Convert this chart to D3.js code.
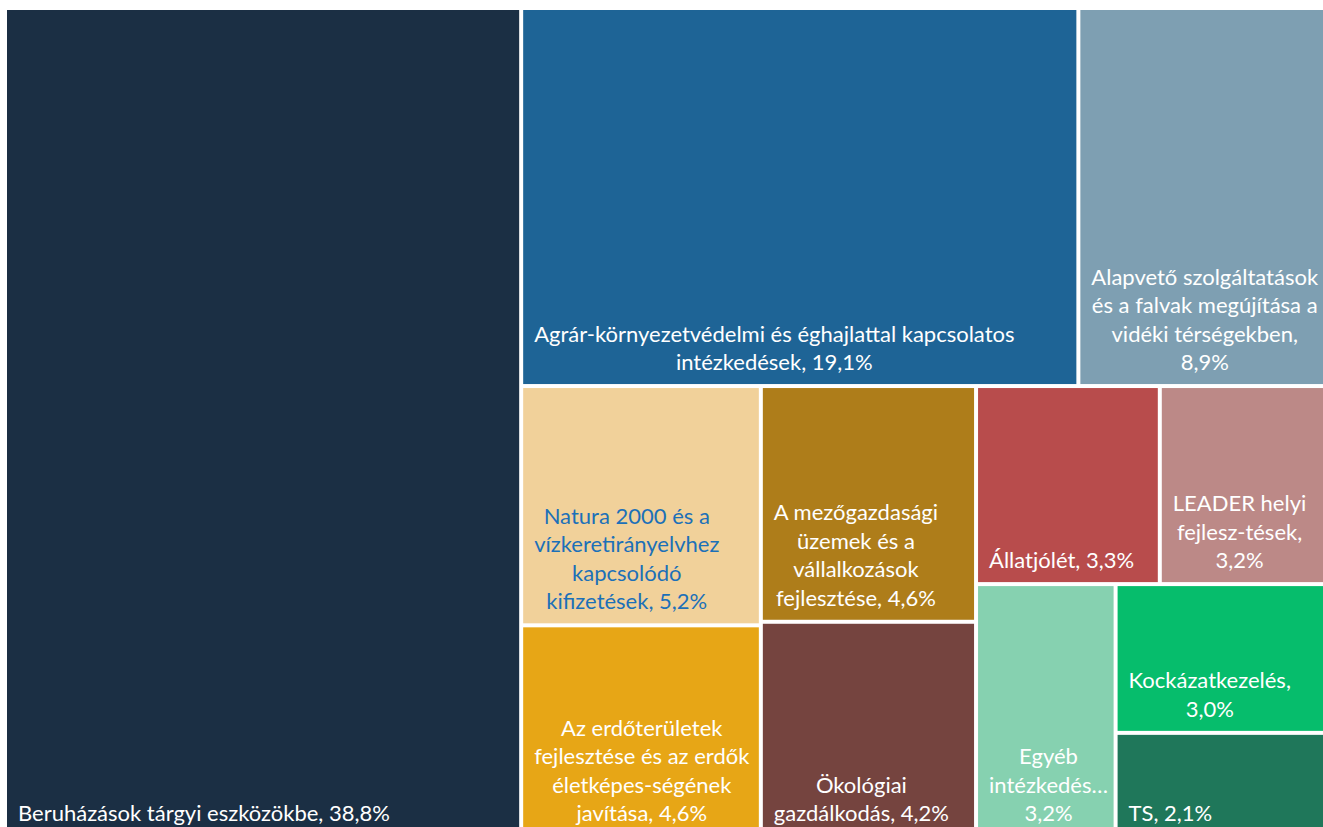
<!DOCTYPE html>
<html><head><meta charset="utf-8">
<script src="https://cdn.jsdelivr.net/npm/d3@7"></script>
<style>body{margin:0;background:#fff;} svg{display:block}</style>
</head><body><svg id="c" width="1323" height="827"></svg>
<script>
// ---- data ----
const categories = [
  "Beruházások tárgyi eszközökbe",
  "Agrár-környezetvédelmi és éghajlattal kapcsolatos intézkedések",
  "Alapvető szolgáltatások és a falvak megújítása a vidéki térségekben",
  "Natura 2000 és a vízkeretirányelvhez kapcsolódó kifizetések",
  "Az erdőterületek fejlesztése és az erdők életképes-ségének javítása",
  "A mezőgazdasági üzemek és a vállalkozások fejlesztése",
  "Ökológiai gazdálkodás",
  "Állatjólét",
  "LEADER helyi fejlesz-tések",
  "Egyéb intézkedések",
  "Kockázatkezelés",
  "TS"
];
const values = [38.8, 19.1, 8.9, 5.2, 4.6, 4.6, 4.2, 3.3, 3.2, 3.2, 3.0, 2.1];
// label text as shown, "|" = line break, "{v}" = value
const labelTexts = [
  "Beruházások tárgyi eszközökbe, {v}",
  "Agrár-környezetvédelmi és éghajlattal kapcsolatos|intézkedések, {v}",
  "Alapvető szolgáltatások|és a falvak megújítása a|vidéki térségekben,|{v}",
  "Natura 2000 és a|vízkeretirányelvhez|kapcsolódó|kifizetések, {v}",
  "Az erdőterületek|fejlesztése és az erdők|életképes-ségének|javítása, {v}",
  "A mezőgazdasági|üzemek és a|vállalkozások|fejlesztése, {v}",
  "Ökológiai|gazdálkodás, {v}",
  "Állatjólét, {v}",
  "LEADER helyi|fejlesz-tések,|{v}",
  "Egyéb|intézkedés…|{v}",
  "Kockázatkezelés,|{v}",
  "TS, {v}"
];
const colors = ["#1B2F44","#1E6496","#7E9FB2","#F1D19A","#E7A616","#AE7D1A",
                "#75443F","#B84C4C","#BC8987","#86D1B0","#06BD6C","#1F775A"];
const textColors = ["#fff","#fff","#fff","#1C70B8","#fff","#fff","#fff","#fff","#fff","#fff","#fff","#fff"];

// ---- layout ----
const W = 1329, H = 825, OX = 7, OY = 10;
const FONT = "Lato, 'Open Sans', sans-serif", FS = 22, LH = 28.5;
const loc = d3.formatLocale({decimal: ",", thousands: " ", grouping: [3], currency: ["", ""]});
const fmt = v => loc.format(".1f")(v) + "%";

const root = d3.hierarchy({children: categories.map((c, i) => ({name: c, value: values[i], i}))})
  .sum(d => d.value || 0);
d3.treemap().tile(d3.treemapSquarify.ratio(1)).size([W, H]).paddingInner(4)(root);

const svg = d3.select("#c");
const g = svg.append("g").attr("transform", `translate(${OX},${OY})`);
const leaf = g.selectAll("g.leaf").data(root.leaves()).join("g").attr("class", "leaf");
leaf.append("rect")
  .attr("x", d => d.x0).attr("y", d => d.y0)
  .attr("width", d => d.x1 - d.x0).attr("height", d => d.y1 - d.y0)
  .attr("fill", d => colors[d.data.i]);

leaf.each(function(d) {
  const lines = labelTexts[d.data.i].replace("{v}", fmt(d.data.value)).split("|");
  const sel = d3.select(this);
  const texts = lines.map(t => sel.append("text").text(t)
    .attr("font-family", FONT).attr("font-size", FS)
    .attr("fill", textColors[d.data.i]).attr("text-anchor", "middle"));
  const boxW = d3.max(texts, t => t.node().getComputedTextLength());
  const cx = d.x0 + 11 + boxW / 2;
  const n = lines.length;
  texts.forEach((t, k) => t.attr("x", cx).attr("y", d.y1 - 14 - (n - 1 - k) * LH));
});
</script></body></html>
